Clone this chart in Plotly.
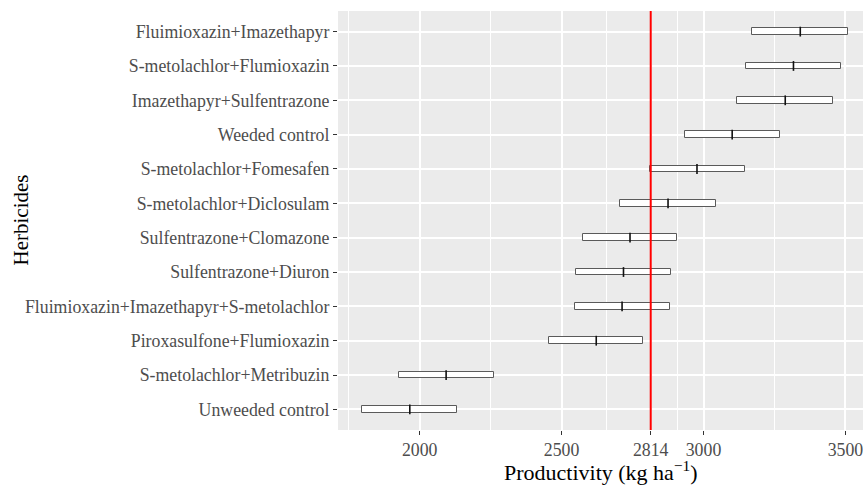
import plotly.graph_objects as go

# Categories listed bottom -> top (ggplot order)
herbicides = [
    "Unweeded control",
    "S-metolachlor+Metribuzin",
    "Piroxasulfone+Flumioxazin",
    "Fluimioxazin+Imazethapyr+S-metolachlor",
    "Sulfentrazone+Diuron",
    "Sulfentrazone+Clomazone",
    "S-metolachlor+Diclosulam",
    "S-metolachlor+Fomesafen",
    "Weeded control",
    "Imazethapyr+Sulfentrazone",
    "S-metolachlor+Flumioxazin",
    "Fluimioxazin+Imazethapyr",
]
lower = [1796, 1927, 2455, 2548, 2551, 2574, 2707, 2813, 2933, 3119, 3151, 3172]
mean = [1965, 2093, 2622, 2713, 2718, 2741, 2875, 2977, 3101, 3288, 3317, 3341]
upper = [2132, 2262, 2788, 2881, 2886, 2908, 3043, 3147, 3268, 3458, 3486, 3508]

reference_value = 2814
x_ticks = [2000, 2500, 2814, 3000, 3500]
x_minor = [1750, 2250, 2657, 2907, 3250]

FONT = "Liberation Serif, Times New Roman, serif"

fig = go.Figure()

fig.add_trace(go.Bar(
    y=herbicides,
    x=[u - l for u, l in zip(upper, lower)],
    base=lower,
    orientation="h",
    width=0.2,
    marker=dict(color="white", line=dict(color="#5a5a5a", width=1)),
    showlegend=False,
    hoverinfo="skip",
))

fig.add_trace(go.Scatter(
    y=herbicides,
    x=mean,
    mode="markers",
    marker=dict(symbol="line-ns", size=7, line=dict(color="#111111", width=1.6)),
    showlegend=False,
    hoverinfo="skip",
))

fig.add_vline(x=reference_value, line=dict(color="#FF0000", width=2), layer="above")

fig.update_layout(
    width=863, height=486,
    margin=dict(l=338, r=0, t=11, b=56, autoexpand=False),
    paper_bgcolor="white",
    plot_bgcolor="#EBEBEB",
    font=dict(family=FONT, color="#4D4D4D", size=17.8),
    bargap=0,
    annotations=[
        dict(text="Productivity (kg ha<sup>\u22121</sup>)", xref="paper", yref="paper",
             x=0.5, y=0, yshift=-25, xanchor="center", yanchor="top", showarrow=False,
             font=dict(family=FONT, size=22, color="black")),
        dict(text="Herbicides", xref="paper", yref="paper", x=0, xshift=-318,
             y=0.5, xanchor="center", yanchor="middle", textangle=-90, showarrow=False,
             font=dict(family=FONT, size=21, color="black")),
    ],
)

fig.update_xaxes(
    range=[1712, 3562], automargin=False, ticklabeloverflow="allow",
    tickmode="array", tickvals=x_ticks, ticktext=[str(v) for v in x_ticks],
    showgrid=True, gridcolor="white", gridwidth=2,
    minor=dict(tickmode="array", tickvals=x_minor, showgrid=True, gridcolor="white", gridwidth=1),
    ticks="outside", ticklen=4, tickcolor="#333333", tickwidth=1,
    zeroline=False, showline=False,
    tickfont=dict(family=FONT, size=17.8, color="#4D4D4D"),
)
fig.update_yaxes(
    type="category", categoryorder="array", categoryarray=herbicides,
    range=[-0.6, len(herbicides) - 0.4], automargin=False, ticklabeloverflow="allow",
    showgrid=True, gridcolor="white", gridwidth=2,
    ticks="outside", ticklen=4, tickcolor="#333333", tickwidth=1,
    zeroline=False, showline=False,
    tickfont=dict(family=FONT, size=17.8, color="#4D4D4D"),
)

fig.write_html(
    "out.html",
    config={"displayModeBar": False},
    post_script="document.body.style.margin='0';document.body.style.overflow='hidden';",
)
